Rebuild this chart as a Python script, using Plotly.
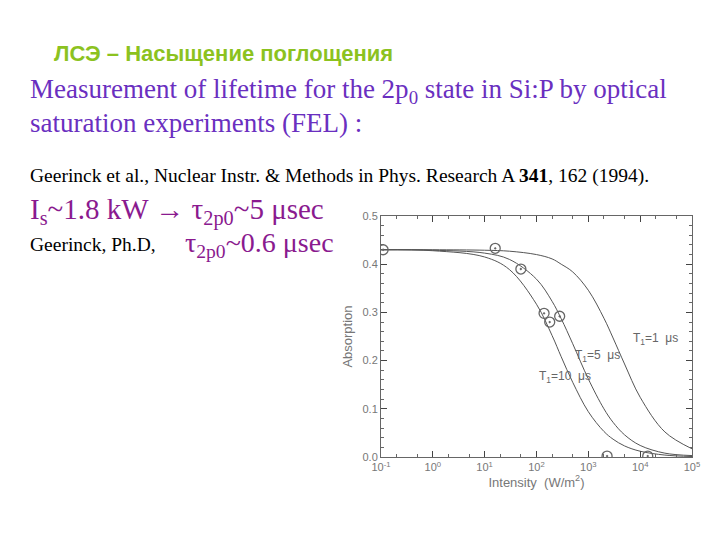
import math
import plotly.graph_objects as go

# curve samples
curve_x = [0.1, 1, 10, 30, 100, 200, 300, 500, 1000, 2000, 3000, 5000, 10000, 30000, 100000]
t10_y = [0.430, 0.428, 0.415, 0.389, 0.317, 0.252, 0.208, 0.155, 0.094, 0.053, 0.037, 0.023, 0.012, 0.004, 0.001]
t5_y = [0.430, 0.429, 0.423, 0.410, 0.369, 0.323, 0.287, 0.235, 0.162, 0.100, 0.072, 0.046, 0.024, 0.008, 0.003]
t1_y = [0.430, 0.430, 0.429, 0.427, 0.420, 0.411, 0.400, 0.384, 0.346, 0.288, 0.247, 0.193, 0.124, 0.052, 0.017]
# measured points
pt_x = [0.11, 16, 50, 140, 180, 280, 2300, 14000]
pt_y = [0.430, 0.433, 0.390, 0.298, 0.280, 0.292, 0.002, 0.002]
tick_vals = [0.1, 1, 10, 100, 1000, 10000, 100000]
tick_text = ["10<sup>-1</sup>", "10<sup>0</sup>", "10<sup>1</sup>", "10<sup>2</sup>", "10<sup>3</sup>", "10<sup>4</sup>", "10<sup>5</sup>"]
curve_labels = ["T<sub>1</sub>=1  μs", "T<sub>1</sub>=5  μs", "T<sub>1</sub>=10  μs"]
label_x = [20000, 1500, 350]
label_y = [0.245, 0.21, 0.165]

fig = go.Figure()
for ys in (t10_y, t5_y, t1_y):
    fig.add_trace(go.Scatter(x=curve_x, y=ys, mode="lines", line=dict(color="#555", width=1, shape="spline"),
                             showlegend=False, hoverinfo="skip"))
fig.add_trace(go.Scatter(x=pt_x, y=pt_y, mode="markers", showlegend=False,
                         marker=dict(size=10, color="#666", symbol="circle-open-dot", line=dict(color="#666", width=1.3))))

gray = dict(family="Liberation Sans", size=11, color="#777")
fig.update_layout(
    width=720, height=540, paper_bgcolor="white", plot_bgcolor="white",
    margin=dict(l=0, r=0, t=0, b=0), showlegend=False,
    xaxis=dict(type="log", range=[-1, 5], domain=[0.518, 0.950], tickvals=tick_vals, ticktext=tick_text,
               automargin=False,
               ticks="inside", ticklen=6, showline=True, linecolor="#666", mirror="ticks", showgrid=False,
               tickfont=gray, minor=dict(ticks="inside", ticklen=3, tickcolor="#666"),
               title=dict(text="Intensity  (W/m<sup>2</sup>)", font=dict(family="Liberation Sans", size=13, color="#777"), standoff=4)),
    yaxis=dict(range=[0, 0.5], domain=[0.1685, 0.6148], tickvals=[0, 0.1, 0.2, 0.3, 0.4, 0.5],
               automargin=False,
               ticktext=["0.0", "0.1", "0.2", "0.3", "0.4", "0.5"], ticks="inside", ticklen=6,
               showline=True, linecolor="#666", mirror="ticks", showgrid=False, tickfont=gray,
               minor=dict(ticks="inside", ticklen=3, tickcolor="#666", dtick=0.02),
               title=dict(text="Absorption", font=dict(family="Liberation Sans", size=13, color="#777"), standoff=6)),
)

lab = dict(family="Liberation Sans", size=12, color="#666")
for txt, x, y in zip(curve_labels, label_x, label_y):
    fig.add_annotation(x=math.log10(x), y=y, xref="x", yref="y", text=txt, showarrow=False, font=lab)

def t(text, x, y, size, color, family="Liberation Serif"):
    fig.add_annotation(x=x / 720, y=1 - y / 540, xref="paper", yref="paper", text=text, showarrow=False,
                       xanchor="left", yanchor="middle", font=dict(family=family, size=size, color=color), align="left")

t("<b>ЛСЭ – Насыщение поглощения</b>", 44, 46, 22, "#8CC21F", "Liberation Sans")
t("Measurement of lifetime for the 2p<sub>0</sub> state in Si:P by optical", 20, 83, 27, "#6a2fc0")
t("saturation experiments (FEL) :", 20, 115, 27, "#6a2fc0")
t("Geerinck et al., Nuclear Instr. &amp; Methods in Phys. Research A <b>341</b>, 162 (1994).", 20, 168, 19.5, "black")
t("I<sub>s</sub>~1.8 kW → τ<sub>2p0</sub>~5 μsec", 20, 203, 29, "#8a1a8f")
t("Geerinck, Ph.D,", 20, 236, 19.5, "black")
t("τ<sub>2p0</sub>~0.6 μsec", 175, 236, 28, "#8a1a8f")

fig.write_html("out.html")
